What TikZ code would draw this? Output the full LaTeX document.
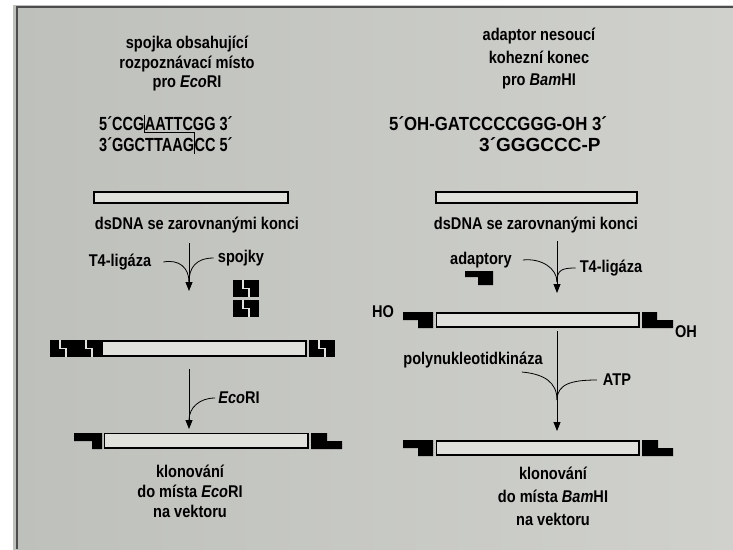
\documentclass[tikz,border=0pt]{standalone}
\usepackage{fontspec}
\usepackage{graphicx}
\setmainfont{Liberation Sans}[FakeStretch=0.857]
\newfontfamily\sekvfont{Liberation Sans}
\usetikzlibrary{arrows.meta}
\definecolor{papirL}{RGB}{190,192,188}
\definecolor{papirR}{RGB}{208,209,205}
\definecolor{vypln}{RGB}{224,225,221}
\tikzset{
  popis/.style={font=\bfseries\fontsize{17}{#1}\selectfont, align=center, inner sep=0pt},
  popis/.default=19.5,
  sekv/.style={font=\sekvfont\bfseries\fontsize{19}{22}\selectfont, inner sep=0pt, anchor=base west},
  dna/.style={draw=black, line width=1.6pt, fill=vypln},
  sipka/.style={line width=0.8pt, -{Triangle[length=9pt,width=7pt]}},
  vetev/.style={line width=0.8pt},
  spojka/.pic={
    \fill (0,0) rectangle (26,17);
    \draw[vypln, line width=1.3pt] (10,0) |- (16,8.5) -- (16,17);
  }
}
\begin{document}
\begin{tikzpicture}[x=1pt,y=-1pt]
        \useasboundingbox (0,0) rectangle (733,549);
        \fill[white] (0,0) rectangle (733,549);
        \shade[left color=papirL, right color=papirR] (13,5) rectangle (733,549);
        \draw[line width=1.8pt, black!70] (17,549) |- (733,7);
        % EcoRI - spojky
        \node[popis] (capL) at (187,64) {spojka obsahující\\rozpoznávací místo\\pro \textit{Eco}RI};
        \node[sekv] (s1a) at (99,130) {\scalebox{0.765}[1]{5´CCG}};
        \node[sekv] (s1b) at (s1a.base east) {\scalebox{0.765}[1]{AATTCGG 3´}};
        \node[sekv] (s2a) at (99,151) {\scalebox{0.765}[1]{3´GGCTTAAG}};
        \node[sekv] (s2b) at (s2a.base east) {\scalebox{0.765}[1]{CC 5´}};
        \coordinate (zlomL) at (0,132);
        \draw[line width=0.8pt] ([yshift=1pt]s1b.north west) -- (s1b.west |- zlomL) -- (s2b.west |- zlomL) -- ([yshift=-3pt]s2b.south west);
        \draw[dna] (94,192) rectangle (288,203);
        \node[popis] (dsL) at (197,225) {dsDNA se zarovnanými konci};
        \coordinate (l1a) at (189,243);
        \coordinate (l1b) at (189,291);
        \coordinate (l1m) at (189,282);
        \node[popis] (ligL) at (120,262) {T4-ligáza};
        \node[popis] (spojky) at (241,258) {spojky};
        \draw[sipka] (l1a) -- (l1b);
        \draw[vetev] ([xshift=12pt]ligL.east) .. controls +(16,-3) and +(0,-14) .. (l1m);
        \draw[vetev] ([xshift=-4pt]spojky.west) .. controls +(-18,0) and +(0,-14) .. (l1m);
        \pic at (233,280) {spojka};
        \pic at (233,300) {spojka};
        \pic at (50,340) {spojka};
        \pic at (76,340) {spojka};
        \draw[dna] (102,341) rectangle (306,356);
        \pic at (309,340) {spojka};
        \coordinate (l2a) at (189,369);
        \coordinate (l2b) at (189,429);
        \coordinate (l2m) at (189,420);
        \node[popis] (ecoL) at (239,398) {\textit{Eco}RI};
        \draw[sipka] (l2a) -- (l2b);
        \draw[vetev] ([xshift=-3pt]ecoL.west) .. controls +(-16,0) and +(0,-12) .. (l2m);
        \fill (74,433) -- (102,433) -- (102,449) -- (92,449) -- (92,441) -- (74,441) -- cycle;
        \draw[dna] (104.5,433.5) rectangle (308,448);
        \fill (311,433) -- (327,433) -- (327,441) -- (342,441) -- (342,449) -- (311,449) -- cycle;
        \node[popis=20] (klonL) at (190,491) {klonování\\do místa \textit{Eco}RI\\na vektoru};
        % BamHI - adaptory
        \node[popis=22.5] (capR) at (539,59) {adaptor nesoucí\\kohezní konec\\pro \textit{Bam}HI};
        \node[sekv] (s3) at (389,130) {\scalebox{0.883}[1]{5´OH-GATCCCCGGG-OH 3´}};
        \node[sekv] (s4) at (479,151) {3´GGGCCC-P};
        \draw[dna] (436,192) rectangle (637,203);
        \node[popis] (dsR) at (536,225) {dsDNA se zarovnanými konci};
        \coordinate (r1a) at (557,241);
        \coordinate (r1b) at (557,293);
        \coordinate (r1m) at (557,282);
        \node[popis] (adapt) at (481,260) {adaptory};
        \node[popis] (ligR) at (611,268) {T4-ligáza};
        \draw[sipka] (r1a) -- (r1b);
        \draw[vetev] ([xshift=11pt]adapt.east) .. controls +(18,-2) and +(0,-14) .. (r1m);
        \draw[vetev] ([xshift=-4pt]ligR.west) .. controls +(-14,0) and +(0,-12) .. (r1m);
        \fill (465,271) -- (493,271) -- (493,285) -- (478,285) -- (478,277) -- (465,277) -- cycle;
        \fill (403,312) -- (433,312) -- (433,328) -- (418,328) -- (418,320) -- (403,320) -- cycle;
        \draw[dna] (436.5,313) rectangle (639,327);
        \fill (642,312) -- (657,312) -- (657,320) -- (673,320) -- (673,328) -- (642,328) -- cycle;
        \node[popis] (ho) at (383,312) {HO};
        \node[popis] (oh) at (686,332) {OH};
        \coordinate (r2a) at (557,331);
        \coordinate (r2b) at (557,431);
        \coordinate (r2m) at (557,400);
        \node[popis] (pnk) at (473,360) {polynukleotidkináza};
        \node[popis] (atp) at (617,380) {ATP};
        \draw[sipka] (r2a) -- (r2b);
        \draw[vetev] ([xshift=-21pt,yshift=-12pt]pnk.east) .. controls +(22,2) and +(0,-18) .. (r2m);
        \draw[vetev] ([xshift=-6pt]atp.west) .. controls +(-25,0) and +(0,-16) .. (r2m);
        \fill (403,440) -- (433,440) -- (433,456) -- (418,456) -- (418,448) -- (403,448) -- cycle;
        \draw[dna] (436.5,441) rectangle (639,455);
        \fill (642,440) -- (658,440) -- (658,448) -- (673,448) -- (673,456) -- (642,456) -- cycle;
        \node[popis=23] (klonR) at (553,496) {klonování\\do místa \textit{Bam}HI\\na vektoru};
\end{tikzpicture}
\end{document}
